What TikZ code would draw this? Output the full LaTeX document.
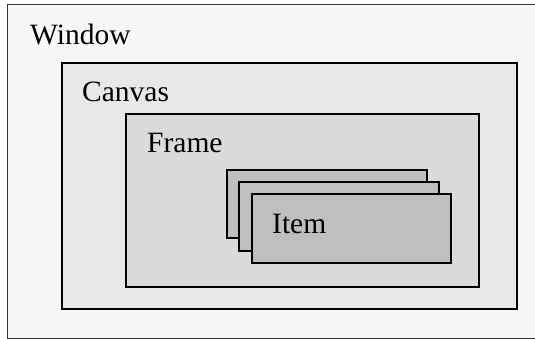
\documentclass[tikz,border=0pt]{standalone}
\usepackage{fontspec}
\setmainfont{Liberation Serif}
\begin{document}
\begin{tikzpicture}[x=1pt,y=-1pt,
  panel/.style={draw=black, line width=1.5pt, inner sep=0pt, outer sep=0pt, anchor=north west},
  lbl/.style={font=\fontsize{29.5}{32}\selectfont, inner sep=0pt, anchor=base west},
]
\useasboundingbox (0,0) rectangle (535,339);
\node[panel, draw=black!80, line width=1pt, fill=black!3, minimum width=545pt, minimum height=333pt] (window) at (7,5) {};
\node[panel, fill=black!9, minimum width=455pt, minimum height=246pt] (canvas) at (62,63) {};
\node[panel, fill=black!14, minimum width=353pt, minimum height=173pt] (frame) at (126,114) {};
\node[panel, fill=black!25, minimum width=200pt, minimum height=68pt] (item1) at (227,170) {};
\node[panel, fill=black!25, minimum width=200pt, minimum height=69pt] (item2) at (239,182) {};
\node[panel, fill=black!25, minimum width=199pt, minimum height=69pt] (item3) at (252,194) {};
\node[lbl] (wl) at (30,45) {Window};
\node[lbl] (cl) at (82,102) {Canvas};
\node[lbl] (fl) at (147,153) {Frame};
\node[lbl] (il) at (272,233) {Item};
\end{tikzpicture}
\end{document}
